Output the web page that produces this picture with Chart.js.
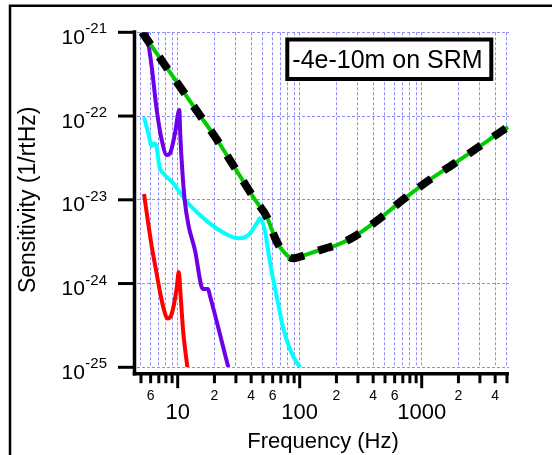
<!DOCTYPE html>
<html>
<head>
<meta charset="utf-8">
<script src="https://cdn.jsdelivr.net/npm/chart.js@4.4.1/dist/chart.umd.min.js"></script>
<style>
  html, body { margin: 0; padding: 0; background: #ffffff; }
  #wrap { width: 552px; height: 455px; position: relative; }
</style>
</head>
<body>
<div id="wrap"><canvas id="c" width="552" height="455"></canvas></div>
<script>
// ---------------- data ----------------
const totalFreq = [5.1, 10, 15, 20.8, 30, 43.1, 53.6, 64.8, 78.2, 88.6, 100.5, 121, 164, 201, 279, 455, 707, 1099, 1816, 2825, 4667, 5100];
const totalVals = [1.0e-21, 2.45e-22, 1.05e-22, 5.32e-23, 2.29e-23, 1.0e-23, 6.28e-24, 3.16e-24, 2.19e-24, 2.0e-24, 2.09e-24, 2.29e-24, 2.64e-24, 2.88e-24, 3.62e-24, 6.01e-24, 1.01e-23, 1.64e-23, 2.67e-23, 4.12e-23, 6.81e-23, 7.4e-23];

const purpleFreq = [5.57, 6.12, 6.73, 7.40, 8.13, 8.65, 9.50, 10.3, 10.5, 10.9, 11.4, 12.2, 13.9, 15.7, 16.3, 17.7, 18.4, 26.0];
const purpleVals = [1.0e-21, 3.88e-22, 1.18e-22, 5.18e-23, 3.43e-23, 3.59e-23, 6.22e-23, 1.18e-22, 5.94e-23, 2.27e-23, 1.0e-23, 5.14e-24, 2.44e-24, 9.1e-25, 8.61e-25, 8.61e-25, 7.1e-25, 1.0e-25];

const cyanFreq = [5.30, 5.74, 6.12, 6.40, 6.70, 7.09, 7.62, 9.20, 11.5, 15.2, 20.9, 28.6, 32.4, 39.2, 44.4, 47.3, 51.9, 55.0, 58.2, 62.7, 67.6, 72.9, 80.2, 88.1, 100.5];
const cyanVals = [9.66e-23, 6.22e-23, 4.39e-23, 4.70e-23, 4.27e-23, 2.48e-23, 2.07e-23, 1.57e-23, 1.0e-23, 6.59e-24, 4.54e-24, 3.56e-24, 3.47e-24, 3.98e-24, 5.24e-24, 6.01e-24, 4.25e-24, 2.52e-24, 1.53e-24, 8.85e-25, 5.11e-25, 3.03e-25, 1.90e-25, 1.36e-25, 1.0e-25];

const redFreq = [5.30, 5.71, 6.16, 6.64, 7.16, 7.72, 8.24, 8.81, 9.33, 9.81, 10.2, 10.6, 11.1, 12.0];
const redVals = [1.17e-23, 5.43e-24, 2.65e-24, 1.45e-24, 7.93e-25, 4.83e-25, 3.83e-25, 4.1e-25, 5.70e-25, 8.85e-25, 1.37e-24, 6.71e-25, 2.64e-25, 1.0e-25];

const xMin = 4.638, xMax = 5194;
const yMin = 1e-25, yMax = 1e-21;
const xTickValues = [5,6,7,8,9,10,20,30,40,50,60,70,80,90,100,200,300,400,500,600,700,800,900,1000,2000,3000,4000,5000];
const xMajorValues = [10, 100, 1000];
const xLabelValues = [6, 10, 20, 40, 60, 100, 200, 400, 600, 1000, 2000, 4000];
const xLabelTexts = ['6', '10', '2', '4', '6', '100', '2', '4', '6', '1000', '2', '4'];
const yTickValues = [1e-25, 1e-24, 1e-23, 1e-22, 1e-21];
const yTickExponents = ['-25', '-24', '-23', '-22', '-21'];
const annotationText = '-4e-10m on SRM';
const xTitle = 'Frequency (Hz)';
const yTitle = 'Sensitivity (1/rtHz)';

const FONT = '"Liberation Sans", Arial, Helvetica, sans-serif';
const pts = (fs, vs) => fs.map((f, i) => ({ x: f, y: vs[i] }));

// ---------------- custom axes (offset, Igor-style) ----------------
const igorAxes = {
  id: 'igorAxes',
  afterDraw(chart) {
    const { ctx, chartArea, scales } = chart;
    const x = scales.x, y = scales.y;
    ctx.save();
    ctx.strokeStyle = '#000';
    ctx.fillStyle = '#000';
    ctx.lineCap = 'butt';

    // outer frame
    ctx.lineWidth = 2.5;
    ctx.beginPath();
    ctx.moveTo(10, 470); ctx.lineTo(10, 5.7); ctx.lineTo(570, 5.7);
    ctx.stroke();

    const axX = chartArea.left - 2.5;
    const axY = chartArea.bottom + 6.4;

    // y axis
    ctx.lineWidth = 3.5;
    ctx.beginPath();
    ctx.moveTo(axX, y.getPixelForValue(yMax) - 2);
    ctx.lineTo(axX, axY + 1.75);
    ctx.stroke();
    ctx.lineWidth = 3;
    yTickValues.forEach(v => {
      const py = y.getPixelForValue(v);
      ctx.beginPath();
      ctx.moveTo(axX - 16.5, py);
      ctx.lineTo(axX, py);
      ctx.stroke();
    });

    // x axis
    ctx.lineWidth = 3.5;
    ctx.beginPath();
    ctx.moveTo(axX - 1.75, axY);
    ctx.lineTo(chartArea.right, axY);
    ctx.stroke();
    ctx.lineWidth = 3;
    xTickValues.forEach(v => {
      const px = x.getPixelForValue(v);
      const len = xMajorValues.includes(v) ? 14.5 : 9.5;
      ctx.beginPath();
      ctx.moveTo(px, axY);
      ctx.lineTo(px, axY + len);
      ctx.stroke();
    });

    // y tick labels: 10^exp
    const rightX = chartArea.left - 30;
    yTickValues.forEach((v, i) => {
      const py = y.getPixelForValue(v);
      ctx.font = '15px ' + FONT;
      const we = ctx.measureText(yTickExponents[i]).width;
      ctx.textAlign = 'left';
      ctx.textBaseline = 'alphabetic';
      ctx.fillText(yTickExponents[i], rightX - we, py + 1);
      ctx.font = '21px ' + FONT;
      ctx.textAlign = 'right';
      ctx.fillText('10', rightX - we - 0.5, py + 11.5);
    });

    // annotation box
    ctx.fillStyle = '#fff';
    ctx.fillRect(287.3, 39.5, 204, 39.5);
    ctx.lineWidth = 4;
    ctx.strokeRect(287.3, 39.5, 204, 39.5);
    ctx.fillStyle = '#000';
    ctx.font = '25px ' + FONT;
    ctx.textAlign = 'left';
    ctx.textBaseline = 'alphabetic';
    ctx.fillText(annotationText, 292.3, 68.3);
    ctx.restore();
  }
};

const gridColor = '#8c8cff';

new Chart(document.getElementById('c'), {
  type: 'line',
  data: {
    datasets: [
      { data: pts(totalFreq, totalVals), borderColor: '#000000', borderWidth: 8, borderDash: [15, 15], borderCapStyle: 'butt' },
      { data: pts(totalFreq, totalVals), borderColor: '#00cc00', borderWidth: 4 },
      { data: pts(purpleFreq, purpleVals), borderColor: '#6e00e6', borderWidth: 4 },
      { data: pts(cyanFreq, cyanVals), borderColor: '#00ffff', borderWidth: 4 },
      { data: pts(redFreq, redVals), borderColor: '#ff0000', borderWidth: 4 }
    ]
  },
  options: {
    responsive: false,
    animation: false,
    devicePixelRatio: 1,
    parsing: true,
    layout: { padding: { top: 32.3, right: 43, left: 0, bottom: 0 } },
    plugins: { legend: { display: false }, tooltip: { enabled: false } },
    elements: {
      point: { radius: 0 },
      line: { cubicInterpolationMode: 'monotone', borderJoinStyle: 'round', fill: false }
    },
    scales: {
      x: {
        type: 'logarithmic',
        position: 'bottom',
        min: xMin, max: xMax,
        afterBuildTicks: s => { s.ticks = xTickValues.map(v => ({ value: v, major: xMajorValues.includes(v) })); },
        afterFit: s => { s.height = 455 - 367.3; },
        grid: { color: gridColor, lineWidth: 1, drawTicks: false },
        border: { display: false, dash: [3, 2] },
        ticks: {
          autoSkip: false, maxRotation: 0, minRotation: 0, padding: 20.7, color: '#000',
          font: ctx => (ctx.tick && xMajorValues.includes(ctx.tick.value))
            ? { size: 22, family: FONT, lineHeight: 2.3 }
            : { size: 14, family: FONT, lineHeight: 1.2 },
          callback: v => { const i = xLabelValues.indexOf(v); return i >= 0 ? xLabelTexts[i] : ''; }
        },
        title: { display: true, text: xTitle, color: '#000', font: { size: 22, family: FONT }, padding: { top: 0, bottom: 0 } }
      },
      y: {
        type: 'logarithmic',
        position: 'left',
        min: yMin, max: yMax,
        afterBuildTicks: s => { s.ticks = yTickValues.map(v => ({ value: v, major: true })); },
        afterFit: s => { s.width = 137; },
        grid: { color: gridColor, lineWidth: 1, drawTicks: false },
        border: { display: false, dash: [3, 2] },
        ticks: { display: false },
        title: { display: true, text: yTitle, color: '#000', font: { size: 23, family: FONT }, padding: { top: 14.5, bottom: 0 } }
      }
    }
  },
  plugins: [igorAxes]
});
</script>
</body>
</html>
